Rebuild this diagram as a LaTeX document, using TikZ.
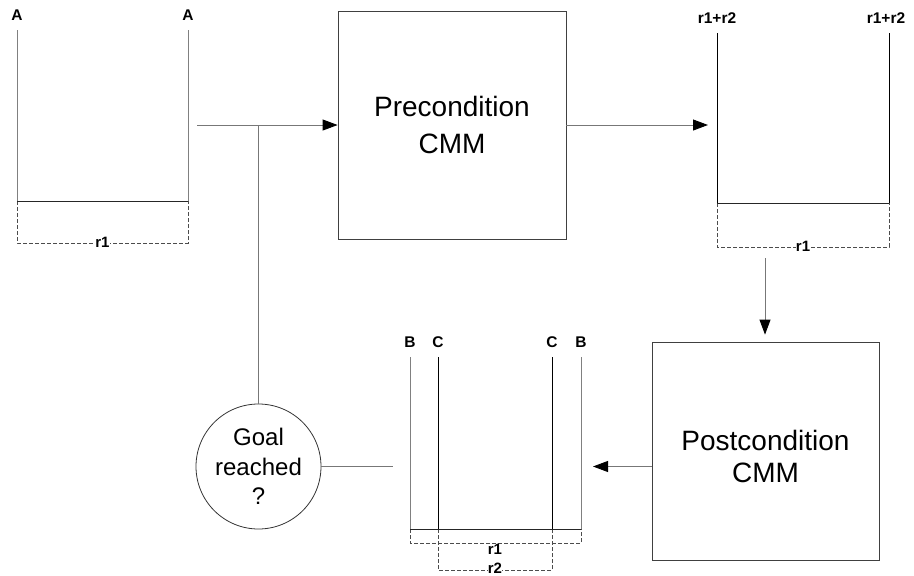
\documentclass[tikz,border=0pt]{standalone}
\usepackage{fontspec}
\setmainfont{Liberation Sans}
\usetikzlibrary{arrows.meta,calc}
\definecolor{shaft}{HTML}{777777}
\definecolor{side}{HTML}{808080}
\definecolor{frame}{HTML}{404040}
\begin{document}
\begin{tikzpicture}[x=1pt,y=-1pt,
  cmmbox/.style={draw=frame, line width=0.8pt, minimum width=228pt, minimum height=228pt, inner sep=0pt},
  bigtext/.style={align=center, font=\fontsize{28}{37}\selectfont},
  tag/.style={font=\fontsize{15.5}{17}\selectfont\bfseries, inner sep=0.5pt},
  rlabel/.style={font=\fontsize{15}{16}\selectfont\bfseries, fill=white, inner sep=0.3pt},
  grayside/.style={draw=side, line width=0.9pt},
  blackside/.style={draw=black, line width=0.8pt},
  bottomline/.style={draw=black!85, line width=0.9pt},
  dashbox/.style={draw=black!70, line width=0.7pt, dash pattern=on 4pt off 2pt},
  arr/.style={draw=shaft, line width=0.9pt, -{Triangle[length=15pt,width=11pt,fill=black,color=black]}},
  plain/.style={draw=shaft, line width=0.9pt}]
\useasboundingbox (0,0) rectangle (914,576);

% ---- process boxes ----
\node[cmmbox, bigtext] (pre) at (452,125) {Precondition\\CMM};
\node[cmmbox, minimum width=227pt, minimum height=218pt] (post) at (765.5,451) {};
\node[bigtext, font=\fontsize{28}{32}\selectfont] (posttext) at ($(post.center)+(0,5)$) {Postcondition\\CMM};

% ---- decision circle ----
\node[draw=black!80, line width=0.8pt, circle, minimum size=125pt, inner sep=0pt,
      align=center, font=\fontsize{24}{29.5}\selectfont] (goal) at (258.5,466.5) {Goal\\reached\\?};

% ---- first container (A) ----
\draw[grayside] (17,30) -- (17,201);
\draw[grayside] (188,30) -- (188,201);
\draw[dashbox] (17,201) rectangle (188,243);
\draw[bottomline] (17,201) -- (188,201);
\node[tag] (a1) at (17,15) {A};
\node[tag] (a2) at (188,15) {A};
\node[rlabel] (ra) at (102.5,242) {r1};

% ---- second container (r1+r2) ----
\draw[blackside] (717,33) -- (717,203);
\draw[blackside] (889,33) -- (889,203);
\draw[dashbox] (717,203) rectangle (889,247);
\draw[bottomline] (717,203) -- (889,203);
\node[tag] (s1) at (717,18) {r1+r2};
\node[tag] (s2) at (886,18) {r1+r2};
\node[rlabel] (rb) at (803,246) {r1};

% ---- third container (B / C) ----
\draw[grayside] (410,357) -- (410,529);
\draw[grayside] (581,357) -- (581,529);
\draw[blackside] (438,357) -- (438,529);
\draw[blackside] (552,357) -- (552,529);
\draw[dashbox] (410,529) rectangle (581,543);
\draw[dashbox] (438,529) rectangle (552,570);
\draw[bottomline] (410,529) -- (581,529);
\node[tag] (b1) at (410,342) {B};
\node[tag] (c1) at (438,342) {C};
\node[tag] (c2) at (552,342) {C};
\node[tag] (b2) at (581,342) {B};
\node[rlabel, fill=none] (rc1) at (495,549) {r1};
\node[rlabel] (rc2) at (495,568) {r2};

% ---- connectors ----
\coordinate (outA) at (197,125);
\coordinate (junc) at (258.5,125);
\coordinate (inB) at (708,125);
\coordinate (outB) at (765,258);
\coordinate (inC) at (593,466.5);
\coordinate (outC) at (393,466.5);

\draw[arr] (outA) -- (pre.west);
\draw[plain] (junc) -- (goal.north);
\draw[arr] (pre.east) -- (inB);
\draw[arr, shorten >=7pt] (outB) -- (outB |- post.north);
\draw[arr] (post.west |- inC) -- (inC);
\draw[plain] (goal.east) -- (outC);
\end{tikzpicture}
\end{document}
